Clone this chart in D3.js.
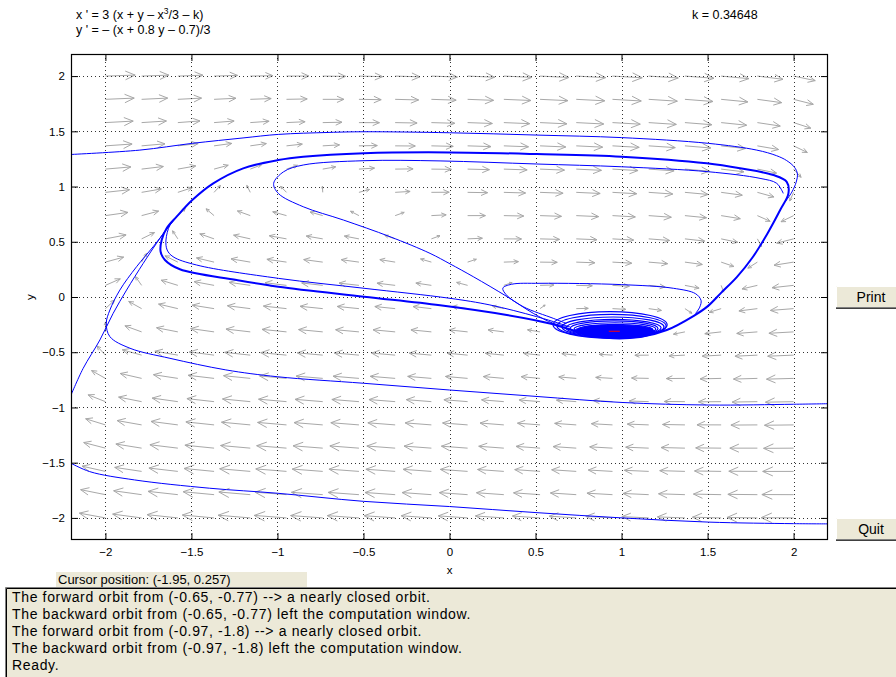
<!DOCTYPE html>
<html>
<head>
<meta charset="UTF-8">
<title>pplane</title>
<script src="https://d3js.org/d3.v7.min.js"></script>
<style>
  * { margin: 0; padding: 0; box-sizing: border-box; }
  body { background: #fff; }
  svg text { font-family: "Liberation Sans", Arial, sans-serif; fill: #000; }
</style>
</head>
<body>
<svg id="fig" width="896" height="677"></svg>
<script>
// equation parameter and axis ticks
const k = 0.34648;
const xTicks = [-2, -1.5, -1, -0.5, 0, 0.5, 1, 1.5, 2];
const yTicks = [-2, -1.5, -1, -0.5, 0, 0.5, 1, 1.5, 2];
// direction field grid (20 x 20)
const fieldGrid = [-2, -1.7895, -1.5789, -1.3684, -1.1579, -0.9474, -0.7368, -0.5263, -0.3158, -0.1053,
                   0.1053, 0.3158, 0.5263, 0.7368, 0.9474, 1.1579, 1.3684, 1.5789, 1.7895, 2];

// orbits (x, y)
const topOrbit = [[-2.206,1.29],[-1.8,1.33],[-1.495,1.391],[-1.2,1.44],[-0.995,1.472],[-0.7,1.49],[-0.497,1.496],
  [0,1.487],[0.507,1.466],[1.001,1.443],[1.505,1.391],[1.786,1.33],[1.9,1.28],[1.96,1.235],[2.005,1.175],
  [2.022,1.115],[2.015,1.04],[1.99,0.95],[1.95,0.86]];
const limitCycle = [[-1.567,0.251],[-1.654,0.335],[-1.679,0.41],[-1.673,0.516],[-1.644,0.622],[-1.586,0.727],
  [-1.495,0.878],[-1.373,1.029],[-1.199,1.165],[-0.995,1.24],[-0.85,1.27],[-0.497,1.302],[0.003,1.309],
  [0.507,1.294],[1.001,1.27],[1.495,1.21],[1.689,1.165],[1.883,1.104],[1.96,1.043],[1.97,0.938],[1.922,0.787],
  [1.85,0.58],[1.76,0.355],[1.67,0.18],[1.58,0.04],[1.5,-0.085],[1.42,-0.17],[1.263,-0.299],[1.108,-0.362],
  [0.914,-0.37],[0.759,-0.32],[0.584,-0.24],[0.333,-0.163],[-0.055,-0.075],[-0.497,0.003],[-0.995,0.093],
  [-1.237,0.154]];
const canardOrbit = [[1.94,0.938],[1.902,1.029],[1.805,1.074],[1.505,1.134],[1.001,1.179],[0.507,1.204],
  [-0.055,1.232],[-0.497,1.234],[-0.85,1.195],[-0.964,1.134],[-1.022,1.029],[-0.995,0.938],[-0.85,0.817],
  [-0.617,0.697],[-0.346,0.546],[-0.113,0.395],[0.003,0.3],[0.138,0.184],[0.335,0.003],[0.487,-0.148],
  [0.603,-0.238],[0.7,-0.27]];
const returnOrbit = [[0.68,-0.26],[0.507,-0.178],[0.235,-0.072],[0.003,-0.012],[-0.497,0.079],[-0.995,0.169],
  [-1.471,0.29],[-1.607,0.365],[-1.641,0.425],[-1.648,0.516],[-1.625,0.652],[-1.586,0.727]];
const smallLoop = [[0.68,-0.24],[0.603,-0.193],[0.429,-0.088],[0.33,0.02],[0.31,0.08],[0.36,0.115],[0.526,0.124],
  [1.001,0.112],[1.301,0.079],[1.43,0.03],[1.462,-0.03],[1.455,-0.09],[1.43,-0.15]];
const leftEntry = [[-2.206,-0.91],[-2.13,-0.648],[-2.032,-0.389],[-1.955,-0.148],[-1.877,0.063],[-1.78,0.305],
  [-1.703,0.486],[-1.635,0.636],[-1.586,0.727]];
const orbitA = [[2.206,-0.966],[2.0,-0.971],[1.505,-0.978],[1.004,-0.955],[0.503,-0.9],[0,-0.842],[-0.5,-0.781],
  [-1.0,-0.722],[-1.3,-0.66],[-1.625,-0.555],[-1.857,-0.464],[-1.974,-0.359],[-1.995,-0.238],[-1.974,-0.118],
  [-1.916,0.063],[-1.819,0.274],[-1.72,0.46],[-1.65,0.6],[-1.6,0.7]];
const orbitB = [[-2.206,-1.5],[-2.091,-1.581],[-1.831,-1.656],[-1.396,-1.731],[-0.998,-1.777],[-0.5,-1.85],
  [0,-1.897],[0.503,-1.952],[1.004,-2.0],[1.505,-2.038],[2.0,-2.052],[2.206,-2.054]];
// spiral loops: [left, right, top, bottom]
const spiralLoops = [[0.602,1.265,-0.133,-0.371],[0.625,1.259,-0.157,-0.367],[0.654,1.247,-0.181,-0.362],
  [0.677,1.23,-0.202,-0.357],[0.701,1.212,-0.217,-0.353],[0.724,1.199,-0.233,-0.348],[0.747,1.181,-0.247,-0.344],
  [0.77,1.166,-0.258,-0.339]];
const spiralCore = [[0.73,-0.3],[0.8,-0.266],[0.95,-0.26],[1.1,-0.266],[1.18,-0.29],[1.19,-0.32],[1.14,-0.355],
  [1.0,-0.372],[0.88,-0.37],[0.78,-0.338]];
const equilibrium = [0.955, -0.31];

const messages = [
  "The forward orbit from (-0.65, -0.77) --> a nearly closed orbit.",
  "The backward orbit from (-0.65, -0.77) left the computation window.",
  "The forward orbit from (-0.97, -1.8) --> a nearly closed orbit.",
  "The backward orbit from (-0.97, -1.8) left the computation window.",
  "Ready."
];

const svg = d3.select("#fig");
const plot = { left: 71, right: 828, top: 54, bottom: 540 };
const pw = plot.right - plot.left, ph = plot.bottom - plot.top;

const x = d3.scaleLinear().domain([-2.2, 2.2]).range([plot.left, plot.right]);
const y = d3.scaleLinear().domain([-2.2, 2.2]).range([plot.bottom, plot.top]);

svg.append("defs").append("clipPath").attr("id", "clip")
  .append("rect").attr("x", plot.left).attr("y", plot.top).attr("width", pw).attr("height", ph);

// direction field
const fx = (a, b) => 3 * (a + b - a * a * a / 3 - k);
const fy = (a, b) => -(a + 0.8 * b - 0.7) / 3;
const pts = [];
fieldGrid.forEach(gx => fieldGrid.forEach(gy => pts.push([gx, gy, fx(gx, gy), fy(gx, gy)])));
const mMax = d3.max(pts, d => Math.hypot(d[2], d[3]));

const field = svg.append("g").attr("stroke", "#a8a8a8").attr("stroke-width", 1).attr("fill", "none");
pts.forEach(([gx, gy, u, v]) => {
  const m = Math.hypot(u, v);
  if (m === 0) return;
  const s = 0.043 * Math.cbrt(m / mMax);
  const dx = (u / m) * s * pw, dy = -(v / m) * s * ph;
  const x0 = x(gx), y0 = y(gy), x1 = x0 + dx, y1 = y0 + dy;
  const len = Math.hypot(dx, dy), th = Math.atan2(dy, dx), h = len * 0.36;
  const p = d3.path();
  p.moveTo(x0, y0); p.lineTo(x1, y1);
  p.moveTo(x1 + h * Math.cos(th + Math.PI - 0.42), y1 + h * Math.sin(th + Math.PI - 0.42));
  p.lineTo(x1, y1);
  p.lineTo(x1 + h * Math.cos(th + Math.PI + 0.42), y1 + h * Math.sin(th + Math.PI + 0.42));
  field.append("path").attr("d", p.toString());
});

// dotted grid
const grid = svg.append("g").attr("stroke", "#333").attr("stroke-width", 1).attr("stroke-dasharray", "1,3");
xTicks.forEach(t => grid.append("line")
  .attr("x1", Math.round(x(t)) + 0.5).attr("x2", Math.round(x(t)) + 0.5)
  .attr("y1", plot.top).attr("y2", plot.bottom));
yTicks.forEach(t => grid.append("line")
  .attr("y1", Math.round(y(t)) + 0.5).attr("y2", Math.round(y(t)) + 0.5)
  .attr("x1", plot.left).attr("x2", plot.right));

// orbits
const orbits = svg.append("g").attr("clip-path", "url(#clip)").attr("fill", "none").attr("stroke", "#0000ff");
const line = d3.line().x(d => x(d[0])).y(d => y(d[1])).curve(d3.curveCatmullRom.alpha(0.5));
const closed = d3.line().x(d => x(d[0])).y(d => y(d[1])).curve(d3.curveCatmullRomClosed.alpha(0.5));

[topOrbit, canardOrbit, returnOrbit, smallLoop, leftEntry, orbitA, orbitB].forEach(o =>
  orbits.append("path").attr("d", line(o)).attr("stroke-width", 1));
orbits.append("path").attr("d", closed(limitCycle)).attr("stroke-width", 2);

orbits.selectAll("ellipse").data(spiralLoops).join("ellipse")
  .attr("cx", d => (x(d[0]) + x(d[1])) / 2)
  .attr("cy", d => (y(d[2]) + y(d[3])) / 2)
  .attr("rx", d => (x(d[1]) - x(d[0])) / 2)
  .attr("ry", d => (y(d[3]) - y(d[2])) / 2)
  .attr("stroke-width", 1.2);
orbits.append("path").attr("d", closed(spiralCore)).attr("fill", "#0000ff").attr("stroke-width", 1);

svg.append("line")
  .attr("x1", x(equilibrium[0]) - 5).attr("x2", x(equilibrium[0]) + 6)
  .attr("y1", y(equilibrium[1])).attr("y2", y(equilibrium[1]))
  .attr("stroke", "#ff0000").attr("stroke-width", 1);

// axes (ticks inward on all sides)
const fmt = d3.format("");
const axFont = g => g.selectAll("text").style("font-size", "11.5px");
svg.append("g").attr("transform", `translate(0,${plot.bottom})`)
  .call(d3.axisBottom(x).tickValues(xTicks).tickSize(-7).tickPadding(8).tickFormat(fmt)).call(axFont);
svg.append("g").attr("transform", `translate(0,${plot.top})`)
  .call(d3.axisTop(x).tickValues(xTicks).tickSize(-7).tickFormat(""));
svg.append("g").attr("transform", `translate(${plot.left},0)`)
  .call(d3.axisLeft(y).tickValues(yTicks).tickSize(-7).tickPadding(6).tickFormat(fmt)).call(axFont);
svg.append("g").attr("transform", `translate(${plot.right},0)`)
  .call(d3.axisRight(y).tickValues(yTicks).tickSize(-7).tickFormat(""));
svg.selectAll(".domain").remove();
svg.selectAll(".tick line").attr("stroke", "#000");

svg.append("rect").attr("x", plot.left + 0.5).attr("y", plot.top + 0.5)
  .attr("width", pw - 1).attr("height", ph - 1)
  .attr("fill", "none").attr("stroke", "#000").attr("stroke-width", 1.2);

svg.append("text").attr("x", x(0)).attr("y", 574).attr("text-anchor", "middle")
  .style("font-size", "11.5px").text("x");
svg.append("text").attr("transform", `translate(34,${y(0)}) rotate(-90)`).attr("text-anchor", "middle")
  .style("font-size", "11.5px").text("y");

// equations and parameter
const eq1 = svg.append("text").attr("x", 76).attr("y", 19).style("font-size", "12.5px");
eq1.append("tspan").text("x ' = 3 (x + y \u2013 x");
eq1.append("tspan").attr("dy", -5).style("font-size", "8.5px").text("3");
eq1.append("tspan").attr("dy", 5).text("/3 \u2013 k)");
svg.append("text").attr("x", 76).attr("y", 34).style("font-size", "12.5px")
  .text("y ' = \u2013 (x + 0.8 y \u2013 0.7)/3");
svg.append("text").attr("x", 692).attr("y", 19).style("font-size", "12.5px").text("k = " + k);

// buttons
function button(label, top) {
  const g = svg.append("g");
  g.append("rect").attr("x", 836).attr("y", top).attr("width", 62).attr("height", 22).attr("fill", "#ece9d8");
  g.append("path").attr("d", `M836.5,${top + 22}V${top + 0.5}H896`).attr("stroke", "#fff").attr("fill", "none");
  g.append("path").attr("d", `M836,${top + 21.5}H896`).attr("stroke", "#808080").attr("fill", "none");
  g.append("path").attr("d", `M836,${top + 22.5}H896`).attr("stroke", "#404040").attr("fill", "none");
  g.append("text").attr("x", 871).attr("y", top + 16).attr("text-anchor", "middle")
    .style("font-size", "14px").text(label);
}
button("Print", 286);
button("Quit", 518);

// status area
svg.append("rect").attr("x", 5).attr("y", 587).attr("width", 891).attr("height", 90).attr("fill", "#ece9d8");
svg.append("path").attr("d", "M5.5,677V587.5H896").attr("stroke", "#808080").attr("fill", "none");
svg.append("path").attr("d", "M6.5,677V588.5H896").attr("stroke", "#000").attr("fill", "none");
svg.append("rect").attr("x", 56).attr("y", 572).attr("width", 251).attr("height", 15).attr("fill", "#ece9d8");
svg.append("text").attr("x", 58).attr("y", 584).style("font-size", "13px")
  .text("Cursor position:  (-1.95, 0.257)");
svg.append("g").selectAll("text").data(messages).join("text")
  .attr("x", 12).attr("y", (d, i) => 602 + i * 17)
  .style("font-size", "14px").style("letter-spacing", "0.65px")
  .text(d => d);
</script>
</body>
</html>
